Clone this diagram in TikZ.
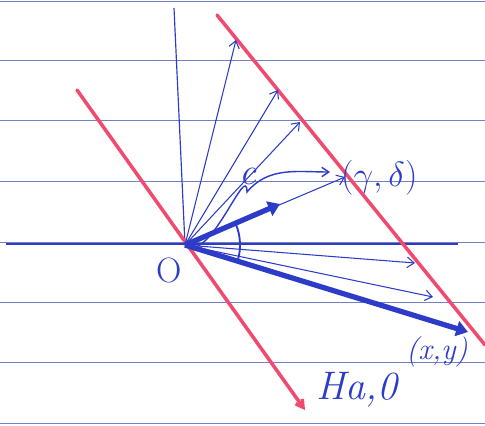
\documentclass[tikz,border=0pt]{standalone}
\usepackage{fontspec}
\usepackage{amsmath,amssymb}
\usepackage{graphicx}
\usepackage{tikz}
\usetikzlibrary{arrows.meta}

\definecolor{ink}{RGB}{45,60,200}
\definecolor{redpen}{RGB}{240,75,110}
\definecolor{ruling}{RGB}{115,130,190}

\tikzset{
  paper/.style={ruling, line width=0.7pt},
  hyperplane/.style={redpen, line width=3pt, line cap=round},
  thinvec/.style={ink, line width=0.9pt, -{Straight Barb[length=6pt,width=9pt]}},
  thickvec/.style={ink, line width=4.5pt, -{Triangle[length=10pt,width=13pt]}},
  hand/.style={ink, font=\fontsize{24}{26}\selectfont}
}

\begin{document}
\begin{tikzpicture}[x=0.03cm,y=-0.03cm]
  \useasboundingbox (0,0) rectangle (485,425);

  % Draw the lines of the paper
  \foreach \y in {1,60,120,181,242,302,362,423} {
    \draw[paper] (0,\y) -- (485,\y);
  }

  \coordinate (O) at (185,245);
  \coordinate (yTop) at (174,8);
  \coordinate (xLeft) at (6,244);
  \coordinate (xRight) at (458,244);

  % Draw the axes
  \draw[ink, line width=1.2pt] (xLeft) -- (xRight);
  \draw[ink, line width=1pt] (yTop) -- (O);

  % Draw the two red lines
  \coordinate (hTop) at (77,90);
  \coordinate (hBot) at (305,410);
  \coordinate (gTop) at (217,15);
  \coordinate (gBot) at (485,345);
  \draw[hyperplane, -{Straight Barb[length=6pt,width=7pt]}] (hTop) -- (hBot);
  \draw[hyperplane] (gTop) -- (gBot);

  % thin vectors ending near the red line
  \foreach \i/\x/\y in {1/236/40, 2/278/90, 3/300/122, 4/415/263, 5/433/297} {
    \coordinate (v\i) at (\x,\y);
  }
  \foreach \i in {1,...,5} {
    \draw[thinvec] (O) -- (v\i);
  }

  \coordinate (gd) at (345,177);
  \draw[thinvec] (O) -- (gd);

  % thick vectors
  \coordinate (a) at (280,204);
  \coordinate (xy) at (468,332);
  \draw[thickvec] (O) -- (a);
  \draw[thickvec] (O) -- (xy);

  % angle between them
  \draw[ink, line width=1.6pt] ([shift={(-23:55)}]O) arc[start angle=-23, end angle=17, radius=55];

  % the curly mark up to (gamma,delta)
  \coordinate (cTip) at (247,192);
  \coordinate (cEnd) at (330,172);
  \draw[ink, line width=1.2pt, -{Straight Barb[length=6pt,width=8pt]}]
    (O) to[out=-40,in=90] (cTip) to[out=50,in=180] (cEnd);

  % labels
  \node[hand, font=\fontsize{30}{32}\selectfont] (oLabel) at (169,270) {O};
  \node[hand, font=\fontsize{32}{34}\selectfont\itshape] (cLabel) at (248,176) {c};
  \node[hand, anchor=west] (gdLabel) at (337,178) {\scalebox{1.2}{$(\gamma,\delta)$}};
  \node[hand, font=\fontsize{26}{28}\selectfont\itshape] (xyLabel) at (437,352) {(x,y)};
  \node[hand, font=\fontsize{34}{36}\selectfont\itshape] (hLabel) at (357,390) {Ha,0};

\end{tikzpicture}
\end{document}
